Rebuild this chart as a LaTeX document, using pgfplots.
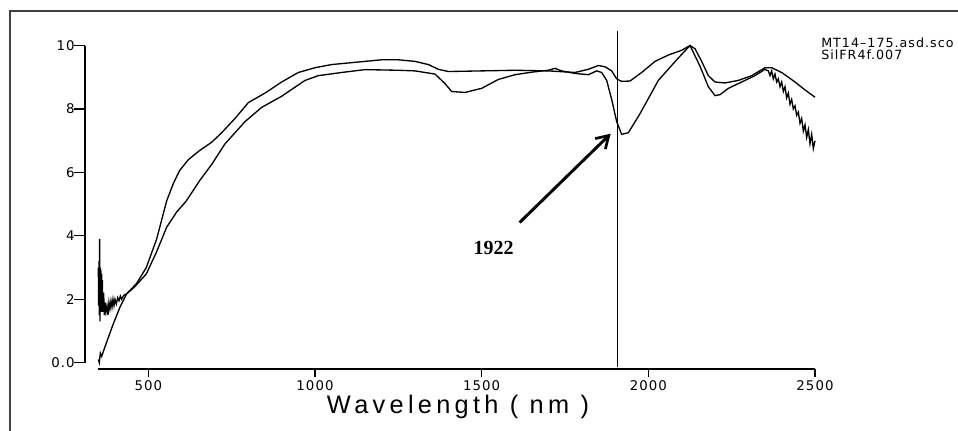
\documentclass[border=0pt]{standalone}
\usepackage{pgfplots}
\pgfplotsset{compat=1.18}
\usetikzlibrary{arrows.meta}
\usepackage{fontspec}
\setmainfont{Liberation Sans}
\newfontfamily\tickfont[LetterSpace=8]{DejaVu Sans}
\newfontfamily\legfont[LetterSpace=8]{DejaVu Sans}
\newfontfamily\labfont[LetterSpace=17]{Liberation Sans}
\newfontfamily\timesfont{Liberation Serif}
\begin{document}
\begin{tikzpicture}[x=0.75pt,y=0.75pt]
\useasboundingbox (0,0) rectangle (958,431);
\draw[line width=1.2pt,black!75] (10,0) -- (10,420) -- (958,420);
\begin{axis}[
  at={(63.75pt,46.5pt)},
  anchor=south west,
  scale only axis,
  width=547.5pt, height=242.6pt,
  xmin=310, xmax=2500, ymin=-0.2, ymax=10,
  axis x line*=bottom, axis y line*=left,
  axis line style={draw=none},
  clip=false,
  tick align=outside,
  xtick={500,1000,1500,2000,2500},
  ytick={0,2,4,6,8,10},
  yticklabels={0.0,2,4,6,8,10},
  xtick style={black,line width=1pt,/pgfplots/major tick length=6pt},
  ytick style={black,line width=1pt,/pgfplots/major tick length=8pt},
  /pgf/number format/assume math mode=true,
  /pgf/number format/1000 sep={},
  ticklabel style={font=\tickfont\fontsize{10}{11}\selectfont},
  xticklabel style={yshift=-1pt},
  yticklabel style={xshift=0pt},
]
% axis lines
\draw[line width=1pt] (axis cs:350,-0.2) -- (axis cs:2500,-0.2);
\draw[line width=1pt] (axis cs:310,0) -- (axis cs:310,10);
% vertical marker
\draw[line width=0.9pt] (axis cs:1908,-0.15) -- (axis cs:1908,10.45);
% upper (smooth) curve
\addplot[black, line width=1pt] coordinates {
(350,0.1) (353,0.0) (356,0.3) (360,0.2) (370,0.5) (394,1.2) (415,1.75) (435,2.17)
(465,2.5) (494,3.0) (525,3.9) (555,5.1) (575,5.65) (594,6.06) (620,6.4) (654,6.69)
(690,6.95) (720,7.25) (760,7.7) (800,8.2) (850,8.5) (900,8.85) (950,9.15) (1000,9.3)
(1050,9.4) (1100,9.45) (1200,9.55) (1250,9.55) (1300,9.5) (1340,9.4) (1370,9.25)
(1400,9.18) (1500,9.2) (1600,9.22) (1700,9.2) (1780,9.15) (1820,9.25) (1850,9.37)
(1870,9.33) (1890,9.2) (1905,8.95) (1920,8.87) (1945,8.88) (1980,9.15) (2020,9.5)
(2060,9.7) (2100,9.85) (2125,10.0) (2140,9.9) (2160,9.5) (2180,9.05) (2200,8.85)
(2230,8.82) (2270,8.9) (2310,9.05) (2350,9.3) (2370,9.3) (2400,9.15) (2440,8.85)
(2470,8.6) (2500,8.37)
};
% lower (noisy) curve
\addplot[black, line width=1pt] coordinates {
(350,3.0) (351,1.8) (352,3.2) (353,1.5) (354,3.9) (355,1.3) (356,3.0) (357,1.7)
(358,2.9) (359,1.6) (360,2.8) (361,1.7) (362,2.6) (364,1.6) (366,2.2) (368,1.5)
(370,1.9) (373,1.6) (376,1.8) (379,1.5) (382,1.9) (385,1.7) (388,1.95) (391,1.75)
(394,2.0) (397,1.8) (400,2.0) (404,1.85) (408,2.05) (412,1.95) (416,2.1) (420,2.0)
(426,2.12) (435,2.17) (460,2.4) (494,2.8) (525,3.5) (555,4.27) (585,4.75) (614,5.1)
(654,5.74) (690,6.25) (730,6.9) (790,7.6) (840,8.05) (900,8.4) (970,8.9) (1010,9.05) (1080,9.15)
(1150,9.24) (1250,9.22) (1300,9.2) (1360,9.1) (1390,8.8) (1410,8.55) (1450,8.52)
(1500,8.65) (1550,8.93) (1600,9.08) (1650,9.16) (1700,9.22) (1720,9.28) (1740,9.2)
(1780,9.12) (1820,9.08) (1845,9.2) (1860,9.15) (1875,8.9) (1890,8.3) (1905,7.6)
(1920,7.2) (1940,7.25) (1975,7.85) (2030,8.9) (2085,9.55) (2125,10.0) (2155,9.35)
(2180,8.7) (2200,8.42) (2215,8.45) (2240,8.65) (2270,8.8) (2320,9.05) (2350,9.25)
(2360,9.2) (2365,9.05) (2370,9.2) (2375,8.95) (2380,9.1) (2385,8.85) (2390,8.95)
(2395,8.7) (2400,8.85) (2405,8.55) (2410,8.7) (2415,8.35) (2420,8.5) (2425,8.15)
(2430,8.3) (2435,8.0) (2440,8.1) (2445,7.8) (2450,7.9) (2455,7.55) (2460,7.7)
(2465,7.3) (2470,7.5) (2475,7.1) (2480,7.35) (2485,6.9) (2490,7.2) (2495,6.75)
(2500,7.0)
};
% annotation arrow
\draw[line width=2.2pt,-{Straight Barb[length=9pt,width=11pt,line width=2pt]}]
  (axis cs:1614,4.42) -- (axis cs:1887,7.22);
\node[font=\timesfont\bfseries\fontsize{15}{17}\selectfont] at (axis cs:1536,3.63) {1922};
\end{axis}
\node[anchor=west,font=\legfont\fontsize{9.5}{10}\selectfont,inner sep=0pt] at (821,388) {MT14–175.asd.sco};
\node[anchor=west,font=\legfont\fontsize{9.5}{10}\selectfont,inner sep=0pt] at (821,376) {SilFR4f.007};
\node[font=\labfont\fontsize{19}{22}\selectfont] at (458,24) {Wavelength ( nm )};
\end{tikzpicture}
\end{document}
